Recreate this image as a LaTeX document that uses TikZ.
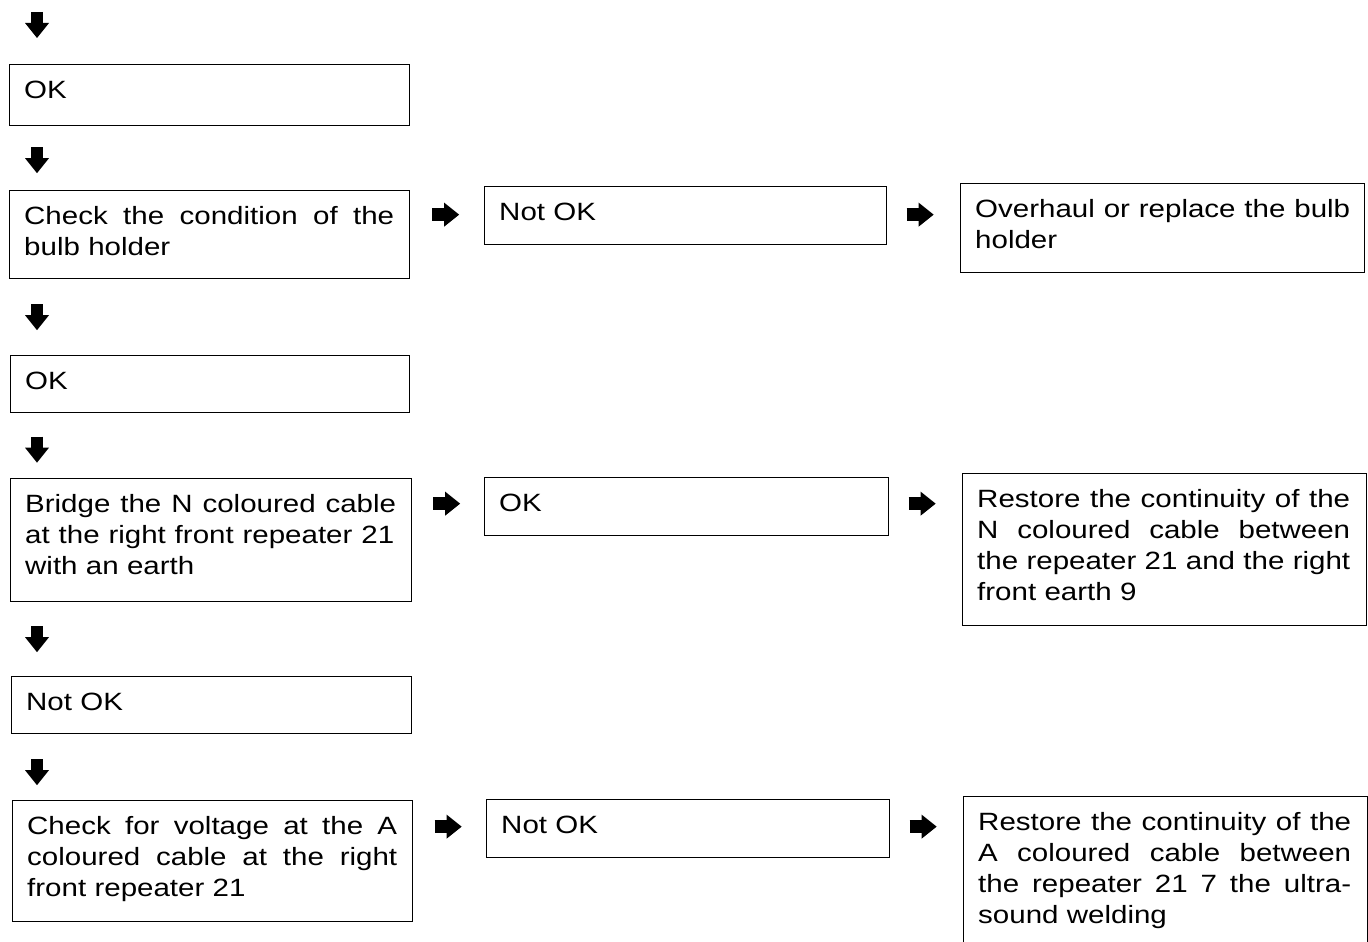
\documentclass[tikz,border=0pt]{standalone}
\usepackage{fontspec}
\setmainfont{Liberation Sans}[FakeStretch=1.18]
\usetikzlibrary{arrows.meta,calc}
\newcommand\justline[2]{\leavevmode\hbox to #1{\spaceskip=0.3em plus 2em\relax #2}}
\begin{document}
\begin{tikzpicture}[x=1pt,y=-1pt,
  box/.style={draw, line width=1.3pt, anchor=north west, inner sep=0pt},
  txt/.style={anchor=north west, inner sep=0pt, align=left,
    font=\fontsize{25}{31}\selectfont, xshift=15pt, yshift=-16.5pt},
  barrow/.style={line width=12.5pt, -{Triangle[length=15pt,width=24pt,line width=0pt]}}]
\useasboundingbox (0,0) rectangle (1368,942);
\clip (0,0) rectangle (1368,942);

% boxes
\node[box, minimum width=400pt, minimum height=61pt]  (b1)  at (9,64) {};
\node[box, minimum width=400pt, minimum height=88pt]  (b2)  at (9,190) {};
\node[box, minimum width=402pt, minimum height=58pt]  (b2m) at (484,186) {};
\node[box, minimum width=404pt, minimum height=89pt]  (b2r) at (960,183) {};
\node[box, minimum width=399pt, minimum height=57pt]  (b3)  at (10,355) {};
\node[box, minimum width=401pt, minimum height=123pt] (b4)  at (10,478) {};
\node[box, minimum width=404pt, minimum height=58pt]  (b4m) at (484,477) {};
\node[box, minimum width=404pt, minimum height=152pt] (b4r) at (962,473) {};
\node[box, minimum width=400pt, minimum height=57pt]  (b5)  at (11,676) {};
\node[box, minimum width=400pt, minimum height=121pt] (b6)  at (12,800) {};
\node[box, minimum width=403pt, minimum height=58pt]  (b6m) at (486,799) {};
\node[box, minimum width=404pt, minimum height=200pt] (b6r) at (963,796) {};

% texts
\node[txt, text width=372pt] (t1) at (b1.north west) {OK};
\node[txt, text width=372pt] (t2) at (b2.north west) {\justline{370pt}{Check the condition of the}\\bulb holder};
\node[txt, text width=372pt] (t2m) at (b2m.north west) {Not OK};
\node[txt, text width=377pt] (t2r) at (b2r.north west) {\justline{375pt}{Overhaul or replace the bulb}\\holder};
\node[txt, text width=372pt] (t3) at (b3.north west) {OK};
\node[txt, text width=372pt] (t4) at (b4.north west) {\justline{371pt}{Bridge the N coloured cable}\\\justline{369pt}{at the right front repeater 21}\\with an earth};
\node[txt, text width=372pt] (t4m) at (b4m.north west) {OK};
\node[txt, text width=377pt] (t4r) at (b4r.north west) {\justline{373pt}{Restore the continuity of the}\\\justline{373pt}{N coloured cable between}\\\justline{373pt}{the repeater 21 and the right}\\front earth 9};
\node[txt, text width=372pt] (t5) at (b5.north west) {Not OK};
\node[txt, text width=372pt] (t6) at (b6.north west) {\justline{370pt}{Check for voltage at the A}\\\justline{370pt}{coloured cable at the right}\\front repeater 21};
\node[txt, text width=372pt] (t6m) at (b6m.north west) {Not OK};
\node[txt, text width=377pt] (t6r) at (b6r.north west) {\justline{373pt}{Restore the continuity of the}\\\justline{373pt}{A coloured cable between}\\\justline{373pt}{the repeater 21 7 the ultra-}\\sound welding};

% vertical arrows
\coordinate (top) at (37,-14);
\draw[barrow] ($(top)!0.5!(b1.north -| top)+(0,-13)$) -- ++(0,26);
\draw[barrow] ($(b1.south -| top)!0.5!(b2.north -| top)+(0,-11)$) -- ++(0,26);
\draw[barrow] ($(b2.south -| top)!0.5!(b3.north -| top)+(0,-13)$) -- ++(0,26);
\draw[barrow] ($(b3.south -| top)!0.5!(b4.north -| top)+(0,-9)$) -- ++(0,26);
\draw[barrow] ($(b4.south -| top)!0.5!(b5.north -| top)+(0,-13)$) -- ++(0,26);
\draw[barrow] ($(b5.south -| top)!0.5!(b6.north -| top)+(0,-8)$) -- ++(0,26);

% horizontal arrows
\draw[barrow] ($(b2.east |- b2m.west)!0.5!(b2m.west)+(-15,-1)$) -- ++(27,0);
\draw[barrow] ($(b2m.east)!0.5!(b2r.west |- b2m.east)+(-17,-1)$) -- ++(27,0);
\draw[barrow] ($(b4.east |- b4m.west)!0.5!(b4m.west)+(-15,-3)$) -- ++(27,0);
\draw[barrow] ($(b4m.east)!0.5!(b4r.west |- b4m.east)+(-17,-3)$) -- ++(27,0);
\draw[barrow] ($(b6.east |- b6m.west)!0.5!(b6m.west)+(-15,-2)$) -- ++(27,0);
\draw[barrow] ($(b6m.east)!0.5!(b6r.west |- b6m.east)+(-17,-2)$) -- ++(27,0);
\end{tikzpicture}
\end{document}
